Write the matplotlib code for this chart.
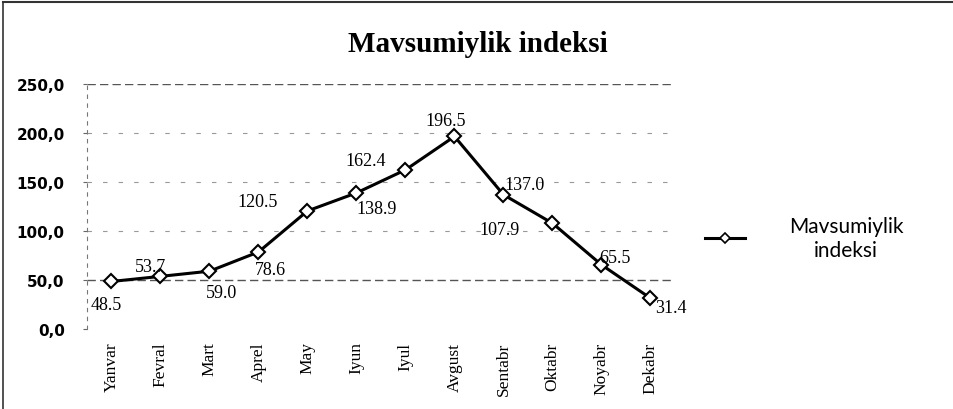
import matplotlib
matplotlib.use("Agg")
import matplotlib.pyplot as plt
from matplotlib.lines import Line2D

months = ["Yanvar", "Fevral", "Mart", "Aprel", "May", "Iyun", "Iyul",
          "Avgust", "Sentabr", "Oktabr", "Noyabr", "Dekabr"]
values = [48.5, 53.7, 59.0, 78.6, 120.5, 138.9, 162.4, 196.5, 137.0, 107.9, 65.5, 31.4]
# label text as printed in the source (some labels sit near neighbouring points)
label_texts = ["48.5", "53.7", "59.0", "78.6", "120.5", "138.9", "162.4",
               "196.5", "137.0", "107.9", "65.5", "31.4"]
label_offsets = [(-5, -23), (-10, 10), (12, -21), (12, -18), (-50, 9), (20, -16),
                 (-40, 9), (-9, 16), (21, 10), (-53, -6), (13, 7), (20, -9)]
yticks = [0, 50, 100, 150, 200, 250]
ytick_labels = ["0,0", "50,0", "100,0", "150,0", "200,0", "250,0"]

W, H = 954, 410
fig = plt.figure(figsize=(W / 100, H / 100), dpi=100)
ax = fig.add_axes([87 / W, 1 - 330 / H, 588 / W, 245 / H])

x = list(range(len(months)))
ax.plot(x, values, color="black", lw=2.2, marker="D", markersize=7,
        markerfacecolor="white", markeredgecolor="black", markeredgewidth=1.5,
        zorder=3)

for xi, v, t, (dx, dy) in zip(x, values, label_texts, label_offsets):
    ax.annotate(t, (xi, v), xytext=(dx, dy), textcoords="offset pixels",
                ha="center", va="center", fontsize=13, family="Liberation Serif",
                zorder=4)

ax.set_xlim(-0.5, len(months) - 0.5)
ax.set_ylim(0, 250)
ax.set_yticks(yticks)
ax.set_yticklabels(ytick_labels, fontsize=11, fontweight="bold",
                   family="DejaVu Sans")
ax.set_xticks(x)
ax.set_xticklabels(months, rotation=90, fontsize=12.5, family="Liberation Serif")
ax.tick_params(axis="x", length=0, pad=9)
ax.tick_params(axis="y", length=3, pad=13, color="#666")

for s in ["top", "right", "bottom"]:
    ax.spines[s].set_visible(False)
ax.spines["left"].set_linestyle((0, (3, 5)))
ax.spines["left"].set_color("#777")
ax.spines["left"].set_linewidth(0.8)

for yv in yticks[1:]:
    ax.axhline(yv, color="#555" if yv in (50, 250) else "#999",
               lw=1.0 if yv in (50, 250) else 0.8,
               ls=(0, (6, 3)) if yv in (50, 250) else (0, (4, 10)), zorder=1)

fig.text(478 / W, 1 - 45 / H, "Mavsumiylik indeksi", ha="center", va="center",
         fontsize=21, fontweight="bold", family="Liberation Serif")

# legend
fig.add_artist(Line2D([705 / W, 745 / W], [1 - 239 / H, 1 - 239 / H],
                      color="black", lw=2.2))
fig.add_artist(Line2D([725 / W], [1 - 239 / H], marker="D", markersize=5,
                      markerfacecolor="white", markeredgecolor="black",
                      markeredgewidth=1.2))
fig.text(846 / W, 1 - 239 / H, "Mavsumiylik\nindeksi", ha="center", va="center",
         multialignment="center", fontsize=15, family="Lato",
         linespacing=1.2)

# frame
fig.add_artist(Line2D([3 / W, 3 / W], [0, 1 - 3 / H], color="#333", lw=1.2))
fig.add_artist(Line2D([3 / W, 1], [1 - 3 / H, 1 - 3 / H], color="#333", lw=1.5))

fig.savefig("out.png", dpi=100)
